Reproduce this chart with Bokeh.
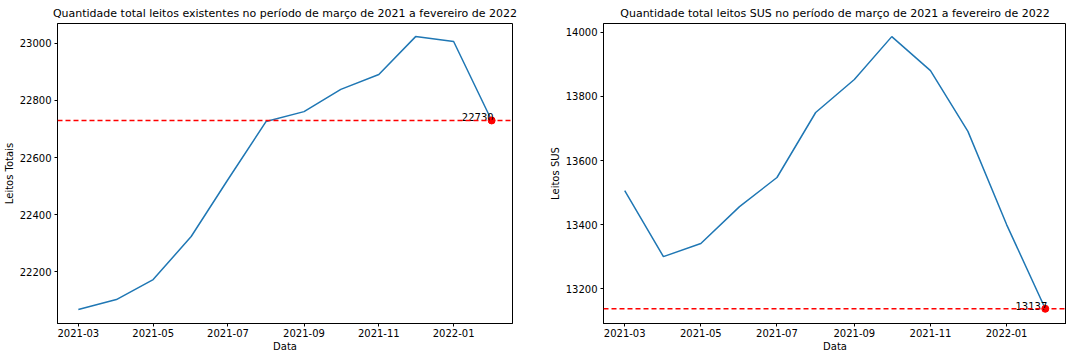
import pandas as pd
from bokeh.plotting import figure
from bokeh.layouts import row
from bokeh.models import Span, DatetimeTickFormatter, MonthsTicker, SingleIntervalTicker, Range1d
from bokeh.core.properties import value
from bokeh.embed import file_html
from bokeh.resources import INLINE

months = ["2021-03-01", "2021-04-01", "2021-05-01", "2021-06-01", "2021-07-01", "2021-08-01",
          "2021-09-01", "2021-10-01", "2021-11-01", "2021-12-01", "2022-01-01", "2022-02-01"]
leitos_totais = [22067, 22102, 22172, 22323, 22523, 22726, 22761, 22839, 22891, 23024, 23007, 22730]
leitos_sus = [13506, 13300, 13341, 13456, 13547, 13750, 13853, 13987, 13881, 13691, 13400, 13137]

titles = ["Quantidade total leitos existentes no período de março de 2021 a fevereiro de 2022",
          "Quantidade total leitos SUS no período de março de 2021 a fevereiro de 2022"]
ylabels = ["Leitos Totais", "Leitos SUS"]

dates = pd.to_datetime(months)
FONT = "DejaVu Sans"


def make(vals, title, ylabel, width, ymin, ymax, left_border, right_border):
    x0 = dates[0] - pd.Timedelta(days=17)
    x1 = dates[-1] + pd.Timedelta(days=17)
    p = figure(width=width, height=354, x_axis_type="datetime", output_backend="svg",
               toolbar_location=None, x_range=Range1d(x0, x1), y_range=Range1d(ymin, ymax),
               min_border_top=0, min_border_bottom=0, min_border_left=left_border,
               min_border_right=right_border)
    p.title.text = title
    p.title.align = "center"
    p.title.text_font = FONT
    p.title.text_font_size = "11px"
    p.title.text_font_style = "normal"
    p.title.text_color = "black"
    p.title.standoff = 8
    p.title.offset = 0
    p.grid.visible = False
    p.outline_line_color = "black"
    p.outline_line_alpha = 1.0
    for ax in (p.xaxis, p.yaxis):
        ax.major_label_text_font = FONT
        ax.major_label_text_font_size = "10px"
        ax.major_label_text_color = "black"
        ax.axis_label_text_font = FONT
        ax.axis_label_text_font_size = "10px"
        ax.axis_label_text_font_style = "normal"
        ax.axis_label_text_color = "black"
        ax.minor_tick_line_color = None
        ax.major_tick_in = 0
        ax.major_tick_out = 3
        ax.major_label_standoff = 2
        ax.axis_line_color = "black"
    p.xaxis.axis_label = "Data"
    p.yaxis.axis_label = ylabel
    p.xaxis.ticker = MonthsTicker(months=[0, 2, 4, 6, 8, 10])
    p.xaxis.formatter = DatetimeTickFormatter(months="%Y-%m", days="%Y-%m", years="%Y-%m")
    p.yaxis.ticker = SingleIntervalTicker(interval=200)
    p.xaxis.axis_label_standoff = 1
    p.yaxis.axis_label_standoff = 2

    p.line(dates, vals, line_color="#1f77b4", line_width=1.5)
    p.add_layout(Span(location=vals[-1], dimension="width", line_color="red",
                      line_dash="5 3", line_width=1.5))
    p.scatter([dates[-1]], [vals[-1]], size=7, color="red")
    p.text([dates[-1]], [vals[-1]], text=[str(vals[-1])], text_align="right",
           text_baseline="bottom", text_font=value(FONT), text_font_size="10px",
           text_color="black", x_offset=2, y_offset=1)
    return p


p1 = make(leitos_totais, titles[0], ylabels[0], 522, 22018, 23070, 0, 10)
p2 = make(leitos_sus, titles[1], ylabels[1], 520, 13091, 14028, 54, 0)
layout = row(p1, p2, spacing=24)

open("out.html", "w").write(file_html(layout, INLINE))
